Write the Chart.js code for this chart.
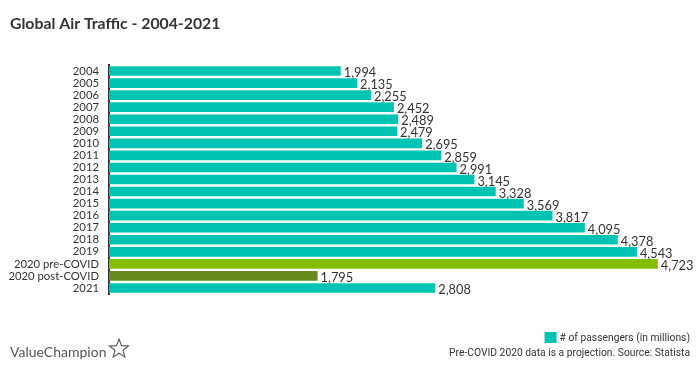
<!DOCTYPE html>
<html>
<head>
<meta charset="utf-8">
<script src="https://cdn.jsdelivr.net/npm/chart.js@4"></script>
<style>
  html, body { margin: 0; padding: 0; background: #fff; }
  #wrap { width: 700px; height: 374px; position: relative; }
</style>
</head>
<body>
<div id="wrap"><canvas id="airChart" width="700" height="374"></canvas></div>
<script>
// Chart data
const years = ['2004', '2005', '2006', '2007', '2008', '2009', '2010', '2011', '2012',
    '2013', '2014', '2015', '2016', '2017', '2018', '2019', '2020 pre-COVID', '2020 post-COVID', '2021'];
const passengers = [1994, 2135, 2255, 2452, 2489, 2479, 2695, 2859, 2991,
    3145, 3328, 3569, 3817, 4095, 4378, 4543, 4723, 1795, 2808];
const titleText = 'Global Air Traffic - 2004-2021';
const legendText = '# of passengers (in millions)';
const noteText = 'Pre-COVID 2020 data is a projection. Source: Statista';

// Colours
const teal = '#00c4b3';
const lime = '#84be00';
const olive = '#678b1c';
const textColor = '#333333';

const barColors = years.map(y => {
    if (y === '2020 pre-COVID') return lime;
    if (y === '2020 post-COVID') return olive;
    return teal;
});

// Value labels at the end of each bar + title, legend and footer
const extrasPlugin = {
    id: 'extras',
    afterDatasetsDraw(chart) {
        const ctx = chart.ctx;
        const meta = chart.getDatasetMeta(0);
        ctx.save();
        ctx.fillStyle = textColor;
        ctx.font = '12.8px Lato';
        ctx.textAlign = 'left';
        ctx.textBaseline = 'middle';
        meta.data.forEach((bar, i) => {
            ctx.fillText(passengers[i].toLocaleString('en-US'), bar.x + 3, bar.y + 2);
        });
        ctx.restore();
    },
    afterDraw(chart) {
        const ctx = chart.ctx;
        ctx.save();
        // title
        ctx.fillStyle = textColor;
        ctx.font = 'bold 15.8px Lato';
        ctx.textAlign = 'left';
        ctx.textBaseline = 'middle';
        ctx.fillText(titleText, 10, 24);

        // legend
        ctx.font = '10.3px Roboto';
        ctx.textAlign = 'right';
        ctx.fillText(legendText, 690, 338);
        const w = ctx.measureText(legendText).width;
        ctx.fillStyle = teal;
        ctx.fillRect(690 - w - 15, 332, 12, 11);
        ctx.fillStyle = textColor;
        ctx.fillText(noteText, 690, 353);

        // logo
        ctx.fillStyle = '#555';
        ctx.font = '14px Lato';
        ctx.textAlign = 'left';
        ctx.fillText('ValueChampion', 10, 352);
        ctx.strokeStyle = '#555';
        ctx.lineWidth = 1.1;
        const cx = 119, cy = 349, ro = 10, ri = 4.2;
        ctx.beginPath();
        for (let k = 0; k < 10; k++) {
            const r = k % 2 === 0 ? ro : ri;
            const a = -Math.PI / 2 + k * Math.PI / 5;
            const px = cx + r * Math.cos(a);
            const py = cy + r * Math.sin(a);
            if (k === 0) ctx.moveTo(px, py); else ctx.lineTo(px, py);
        }
        ctx.closePath();
        ctx.stroke();
        ctx.restore();
    }
};

const ctx = document.getElementById('airChart').getContext('2d');
const airChart = new Chart(ctx, {
    type: 'bar',
    data: {
        labels: years,
        datasets: [
            {
                label: legendText,
                data: passengers,
                backgroundColor: barColors,
                borderWidth: 0,
                barPercentage: 0.8,
                categoryPercentage: 1.0,
            },
        ],
    },
    options: {
        indexAxis: 'y',
        responsive: false,
        animation: false,
        layout: {
            padding: { left: 0, top: 65, right: 10, bottom: 80 },
        },
        plugins: {
            legend: { display: false },
            title: { display: false },
            tooltip: { enabled: false },
        },
        scales: {
            x: {
                display: false,
                min: 0,
                max: 5000,
            },
            y: {
                afterFit(scale) { scale.width = 109; },
                grid: { display: false, drawTicks: false },
                border: { display: true, color: '#333', width: 2 },
                ticks: {
                    padding: 10,
                    color: textColor,
                    font: { family: 'Lato', size: 11.3 },
                    autoSkip: false,
                },
            },
        },
    },
    plugins: [extrasPlugin],
});
</script>
</body>
</html>
